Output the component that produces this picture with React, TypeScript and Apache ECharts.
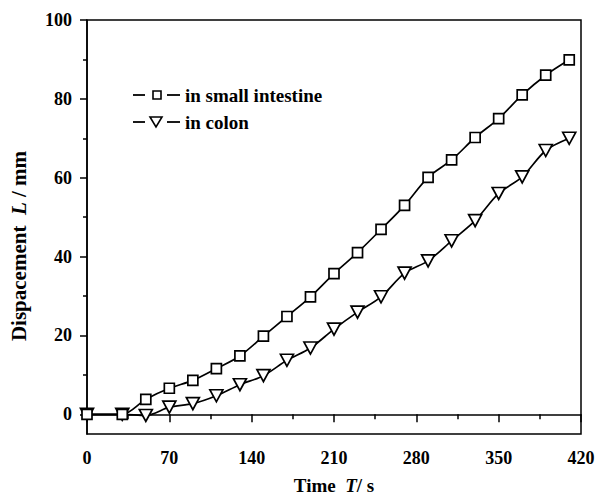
import React, { useEffect, useRef } from "react";
import * as echarts from "echarts";

const timeValues = [0, 30, 50, 70, 90, 110, 130, 150, 170, 190, 210, 230, 250, 270, 290, 310, 330, 350, 370, 390, 410];
const smallIntestine = [0, 0, 3.8, 6.6, 8.6, 11.6, 14.8, 19.8, 24.8, 29.8, 35.7, 41, 46.9, 53, 60.1, 64.5, 70.2, 75, 81, 86, 89.9];
const colon = [0, 0, -0.3, 1.8, 2.7, 4.7, 7.5, 9.8, 13.7, 16.8, 21.6, 25.9, 29.8, 35.8, 38.9, 44, 49.1, 56, 60.2, 66.9, 70];
const xTicks = [0, 70, 140, 210, 280, 350, 420];
const yMajorTicks = [0, 20, 40, 60, 80, 100];
const yMinorTicks = [10, 30, 50, 70, 90];
const seriesNames = ["in small intestine", "in colon"];

const FONT = "Liberation Serif";

export default function App() {
  const ref = useRef<HTMLDivElement>(null);
  useEffect(() => {
    if (!ref.current) return;
    const chart = echarts.init(ref.current, null, { renderer: "svg" });
    const pair = (ys: number[]) => timeValues.map((t, i) => [t, ys[i]]);
    const labelStyle = { fontFamily: FONT, fontWeight: "bold" as const, fontSize: 18, color: "#000" };
    const lineSt = { stroke: "#000", lineWidth: 1.8 };
    const legendRow = (cy: number, marker: any, text: string) => [
      { type: "line", shape: { x1: 133, y1: cy, x2: 145, y2: cy }, style: lineSt },
      marker,
      { type: "line", shape: { x1: 167, y1: cy, x2: 180, y2: cy }, style: lineSt },
      {
        type: "text",
        x: 185,
        y: cy,
        style: { text, fontFamily: FONT, fontWeight: "bold", fontSize: 19, fill: "#000", verticalAlign: "middle", align: "left" },
      },
    ];
    chart.setOption({
      animation: false,
      backgroundColor: "#fff",
      grid: { left: 87, right: 18, top: 20, bottom: 63, show: true, borderColor: "#000", borderWidth: 1.5, backgroundColor: "transparent" },
      graphic: [
        ...legendRow(
          95,
          { type: "rect", shape: { x: 153, y: 91, width: 8, height: 8 }, style: { fill: "#fff", stroke: "#000", lineWidth: 1.6 } },
          seriesNames[0]
        ),
        ...legendRow(
          122,
          { type: "polygon", shape: { points: [[150, 117], [162, 117], [156, 127]] }, style: { fill: "#fff", stroke: "#000", lineWidth: 1.6 } },
          seriesNames[1]
        ),
        {
          type: "text",
          x: 19,
          y: 246,
          rotation: Math.PI / 2,
          style: {
            text: "{a|Dispacement  }{b|L}{a| / mm}",
            align: "center",
            verticalAlign: "middle",
            rich: {
              a: { fontFamily: FONT, fontWeight: "bold", fontSize: 21, fill: "#000", color: "#000" },
              b: { fontFamily: FONT, fontWeight: "bold", fontStyle: "italic", fontSize: 21, fill: "#000", color: "#000" },
            },
          },
        },
      ],
      xAxis: {
        type: "value",
        min: 0,
        max: 420,
        interval: 70,
        axisLine: { show: true, lineStyle: { color: "#000", width: 1.5 } },
        axisTick: { show: true, inside: false, length: 8, lineStyle: { color: "#000", width: 1.5 } },
        minorTick: { show: true, splitNumber: 2, length: 5, lineStyle: { color: "#000", width: 1.5 } },
        splitLine: { show: false },
        axisLabel: { ...labelStyle, margin: 15, customValues: xTicks },
        name: "{a|Time  }{b|T}{a|/ s}",
        nameLocation: "middle",
        nameGap: 42,
        nameTextStyle: {
          rich: {
            a: { fontFamily: FONT, fontWeight: "bold", fontSize: 19, color: "#000" },
            b: { fontFamily: FONT, fontWeight: "bold", fontStyle: "italic", fontSize: 19, color: "#000" },
          },
        },
      },
      yAxis: [
        {
          type: "value",
          min: -5,
          max: 100,
          position: "left",
          axisLine: { show: true, lineStyle: { color: "#000", width: 1.5 } },
          axisTick: { show: true, inside: false, length: 7, customValues: yMajorTicks, lineStyle: { color: "#000", width: 1.5 } },
          axisLabel: { ...labelStyle, margin: 15, customValues: yMajorTicks },
          splitLine: { show: false },
        },
        {
          type: "value",
          min: -5,
          max: 100,
          position: "left",
          axisLine: { show: false },
          axisTick: { show: true, inside: false, length: 4, customValues: yMinorTicks, lineStyle: { color: "#000", width: 1.5 } },
          axisLabel: { show: false },
          splitLine: { show: false },
        },
      ],
      series: [
        {
          name: seriesNames[0],
          type: "line",
          data: pair(smallIntestine),
          smooth: 0.3,
          symbol: "rect",
          symbolSize: 10,
          showAllSymbol: true,
          lineStyle: { color: "#000", width: 1.7 },
          itemStyle: { color: "#fff", borderColor: "#000", borderWidth: 1.7 },
          clip: true,
          z: 3,
        },
        {
          name: seriesNames[1],
          type: "line",
          data: pair(colon),
          smooth: 0.3,
          symbol: "triangle",
          symbolRotate: 180,
          symbolSize: [13, 12],
          showAllSymbol: true,
          lineStyle: { color: "#000", width: 1.7 },
          itemStyle: { color: "#fff", borderColor: "#000", borderWidth: 1.7 },
          clip: true,
          z: 2,
        },
      ],
    });
    return () => chart.dispose();
  }, []);
  return <div ref={ref} style={{ width: 599, height: 500, position: "absolute", left: 0, top: 0 }} />;
}
